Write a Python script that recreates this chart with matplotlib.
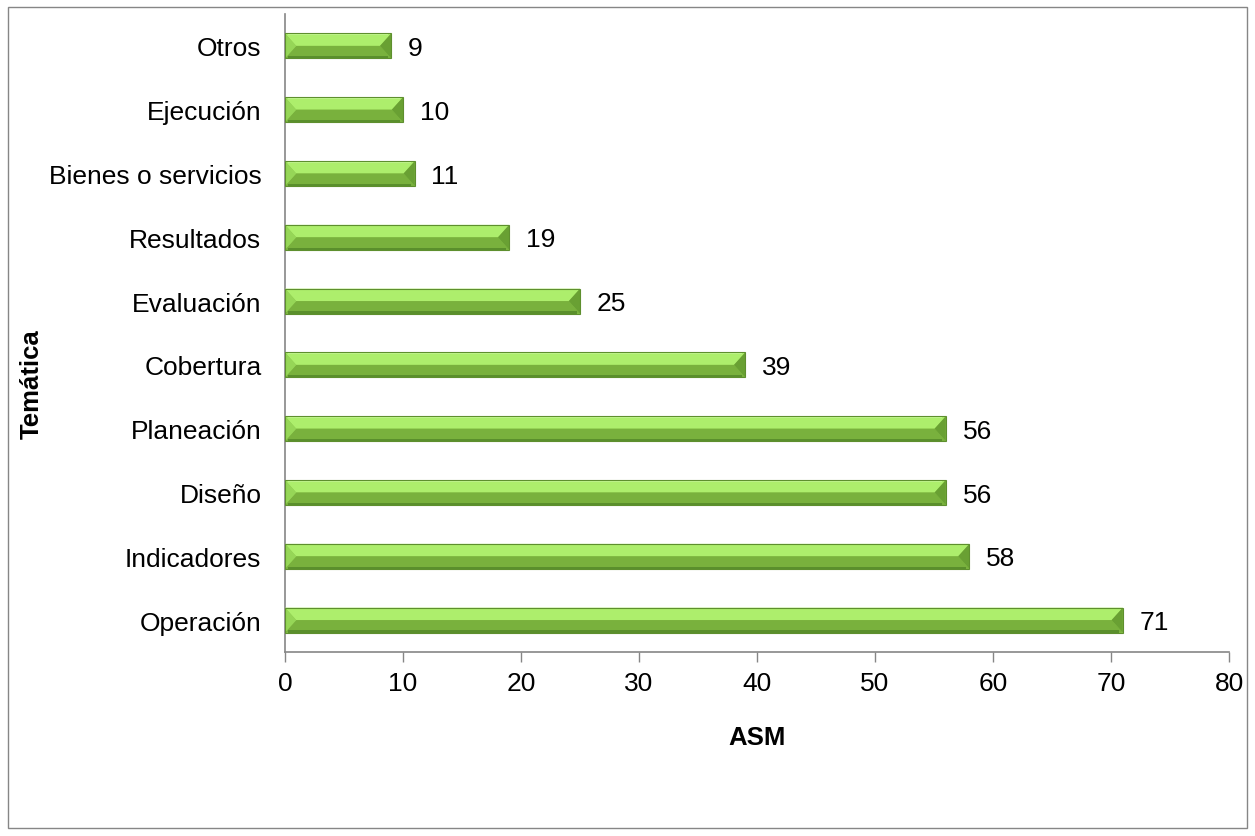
import numpy as np
import matplotlib.pyplot as plt
from matplotlib.patches import Polygon, Rectangle

categories = ["Operación", "Indicadores", "Diseño", "Planeación", "Cobertura",
              "Evaluación", "Resultados", "Bienes o servicios", "Ejecución", "Otros"]
values = [71, 58, 56, 56, 39, 25, 19, 11, 10, 9]
xticks = [0, 10, 20, 30, 40, 50, 60, 70, 80]

plt.rcParams['font.family'] = ['Liberation Sans', 'DejaVu Sans']

fig = plt.figure(figsize=(12.55, 8.37), dpi=100)
ax = fig.add_axes([285/1255, 1-653/837, (1229-285)/1255, (653-15)/837])

# outer chart border
fig.patches.append(Rectangle((8/1255, 1-829/837), (1247-8)/1255, (829-8)/837,
                             transform=fig.transFigure, fill=False,
                             edgecolor='#868686', lw=1))

h = 0.39
pos = np.arange(len(categories))
ax.barh(pos, values, height=h, color='#8cc84b', lw=0, zorder=2)

bx = 0.95   # bevel width in data units
hb = 0.025  # thin highlight / shadow band
for y, v in zip(pos, values):
    y0, y1 = y - h/2, y + h/2
    # upper face (light)
    ax.add_patch(Polygon([(0, y1), (v, y1), (v-bx, y), (bx, y)],
                         closed=True, color='#adee6c', lw=0, zorder=3))
    # lower face (darker)
    ax.add_patch(Polygon([(0, y0), (v, y0), (v-bx, y), (bx, y)],
                         closed=True, color='#79b13d', lw=0, zorder=3))
    # left chevron
    ax.add_patch(Polygon([(0, y0), (0, y1), (bx, y)],
                         closed=True, color='#96d657', lw=0, zorder=3))
    # right chevron
    ax.add_patch(Polygon([(v, y0), (v, y1), (v-bx, y)],
                         closed=True, color='#69a033', lw=0, zorder=3))
    # thin top highlight and bottom shadow
    ax.add_patch(Rectangle((bx*0.3, y1-hb), v-bx*0.6, hb, color='#c2f78e', lw=0, zorder=4))
    ax.add_patch(Rectangle((bx*0.3, y0), v-bx*0.6, hb*1.3, color='#5a8f2c', lw=0, zorder=4))
    ax.add_patch(Rectangle((0, y0), v, h, fill=False, edgecolor='#5e8f2e', lw=0.8, zorder=5))
    ax.annotate(str(v), (v, y), xytext=(12, -1.5), textcoords='offset points',
                va='center', ha='left', fontsize=19, color='black')

ax.set_xlim(0, 80)
ax.set_ylim(-0.5, len(categories)-0.5)
ax.set_xticks(xticks)
ax.set_yticks(pos)
ax.set_yticklabels(categories)
ax.tick_params(axis='x', length=7, width=1, color='#868686', labelsize=19, pad=7)
ax.tick_params(axis='y', length=0, labelsize=19, pad=17)
for s in ['top', 'right']:
    ax.spines[s].set_visible(False)
for s in ['left', 'bottom']:
    ax.spines[s].set_color('#868686')
    ax.spines[s].set_linewidth(1.2)

fig.text(757/1255, 1-738/837, 'ASM', fontsize=18.5, fontweight='bold',
         ha='center', va='center')
fig.text(32/1255, 1-384/837, 'Temática', rotation=90, fontsize=18.5,
         fontweight='bold', ha='center', va='center')

fig.savefig('out.png', dpi=100)
